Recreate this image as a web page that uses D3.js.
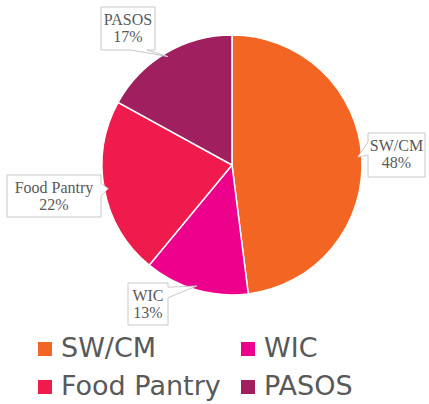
<!DOCTYPE html>
<html>
<head>
<meta charset="utf-8">
<script src="https://cdn.jsdelivr.net/npm/d3@7"></script>
<style>
  body { margin: 0; background: #fff; }
</style>
</head>
<body>
<svg id="chart"></svg>
<script>
// Data
const programs = ["SW/CM", "WIC", "Food Pantry", "PASOS"];
const shares = [48, 13, 22, 17];
const colors = ["#F26522", "#EC008C", "#EE1B4C", "#A0205F"];

// callout boxes (layout only)
const boxes = {
  "PASOS":       { x: 101, y: 7,   w: 54, h: 43, side: "bottom", a: 0.55, b: 0.85 },
  "SW/CM":       { x: 368, y: 133, w: 57, h: 44, side: "left",   a: 0.2,  b: 0.5 },
  "Food Pantry": { x: 7,   y: 175, w: 94, h: 42, side: "right",  a: 0.2,  b: 0.5 },
  "WIC":         { x: 128, y: 283, w: 40, h: 42, side: "right",  a: 0.1,  b: 0.35 }
};

const width = 429, height = 404;
const cx = 232, cy = 165, r = 130;

const svg = d3.select("#chart").attr("width", width).attr("height", height);

const pie = d3.pie().sort(null).value(d => d.value);
const arcs = pie(programs.map((p, i) => ({ name: p, value: shares[i] })));
const arc = d3.arc().innerRadius(0).outerRadius(r);
const tipArc = d3.arc().innerRadius(r - 4).outerRadius(r - 4);

const g = svg.append("g").attr("transform", `translate(${cx},${cy})`);

g.selectAll("path")
    .data(arcs)
    .enter().append("path")
    .attr("d", arc)
    .attr("fill", (d, i) => colors[i])
    .attr("stroke", "#fff")
    .attr("stroke-width", 1.5);

// callout labels
function calloutPath(b, tip) {
  let x0 = b.x, y0 = b.y, x1 = b.x + b.w, y1 = b.y + b.h;
  let pts = [];
  if (b.side === "bottom") {
    pts = [[x0, y0], [x1, y0], [x1, y1], [x0 + b.w * b.b, y1], tip, [x0 + b.w * b.a, y1], [x0, y1]];
  } else if (b.side === "left") {
    pts = [[x0, y0], [x1, y0], [x1, y1], [x0, y1], [x0, y0 + b.h * b.b], tip, [x0, y0 + b.h * b.a]];
  } else if (b.side === "right") {
    pts = [[x0, y0], [x1, y0], [x1, y0 + b.h * b.a], tip, [x1, y0 + b.h * b.b], [x1, y1], [x0, y1]];
  }
  return "M" + pts.map(p => p.join(",")).join("L") + "Z";
}

arcs.forEach((d, i) => {
  const b = boxes[d.data.name];
  const c = tipArc.centroid(d);
  const tip = [c[0] + cx, c[1] + cy];
  svg.append("path")
      .attr("d", calloutPath(b, tip))
      .attr("fill", "#fff")
      .attr("stroke", "#c8c8c8")
      .attr("stroke-width", 1);
  const t = svg.append("text")
      .attr("text-anchor", "middle")
      .attr("font-family", "'Liberation Serif', 'Times New Roman', serif")
      .attr("font-size", 16)
      .attr("fill", "#595959");
  t.append("tspan").attr("x", b.x + b.w / 2).attr("y", b.y + 18).text(d.data.name);
  t.append("tspan").attr("x", b.x + b.w / 2).attr("y", b.y + 35).text(d.data.value + "%");
});

// legend
const legend = svg.append("g");
const lx = d3.scaleOrdinal().domain([0, 1]).range([38, 241]);
const ly = d3.scaleOrdinal().domain([0, 1]).range([342, 380]);

programs.forEach((p, i) => {
  const col = i % 2, row = Math.floor(i / 2);
  legend.append("rect")
      .attr("x", lx(col)).attr("y", ly(row))
      .attr("width", 14).attr("height", 14)
      .attr("fill", colors[i]);
  legend.append("text")
      .attr("x", lx(col) + 23).attr("y", ly(row) + 15)
      .attr("font-family", "'DejaVu Sans', Verdana, sans-serif")
      .attr("font-size", 27)
      .attr("fill", "#595959")
      .text(p);
});
</script>
</body>
</html>
